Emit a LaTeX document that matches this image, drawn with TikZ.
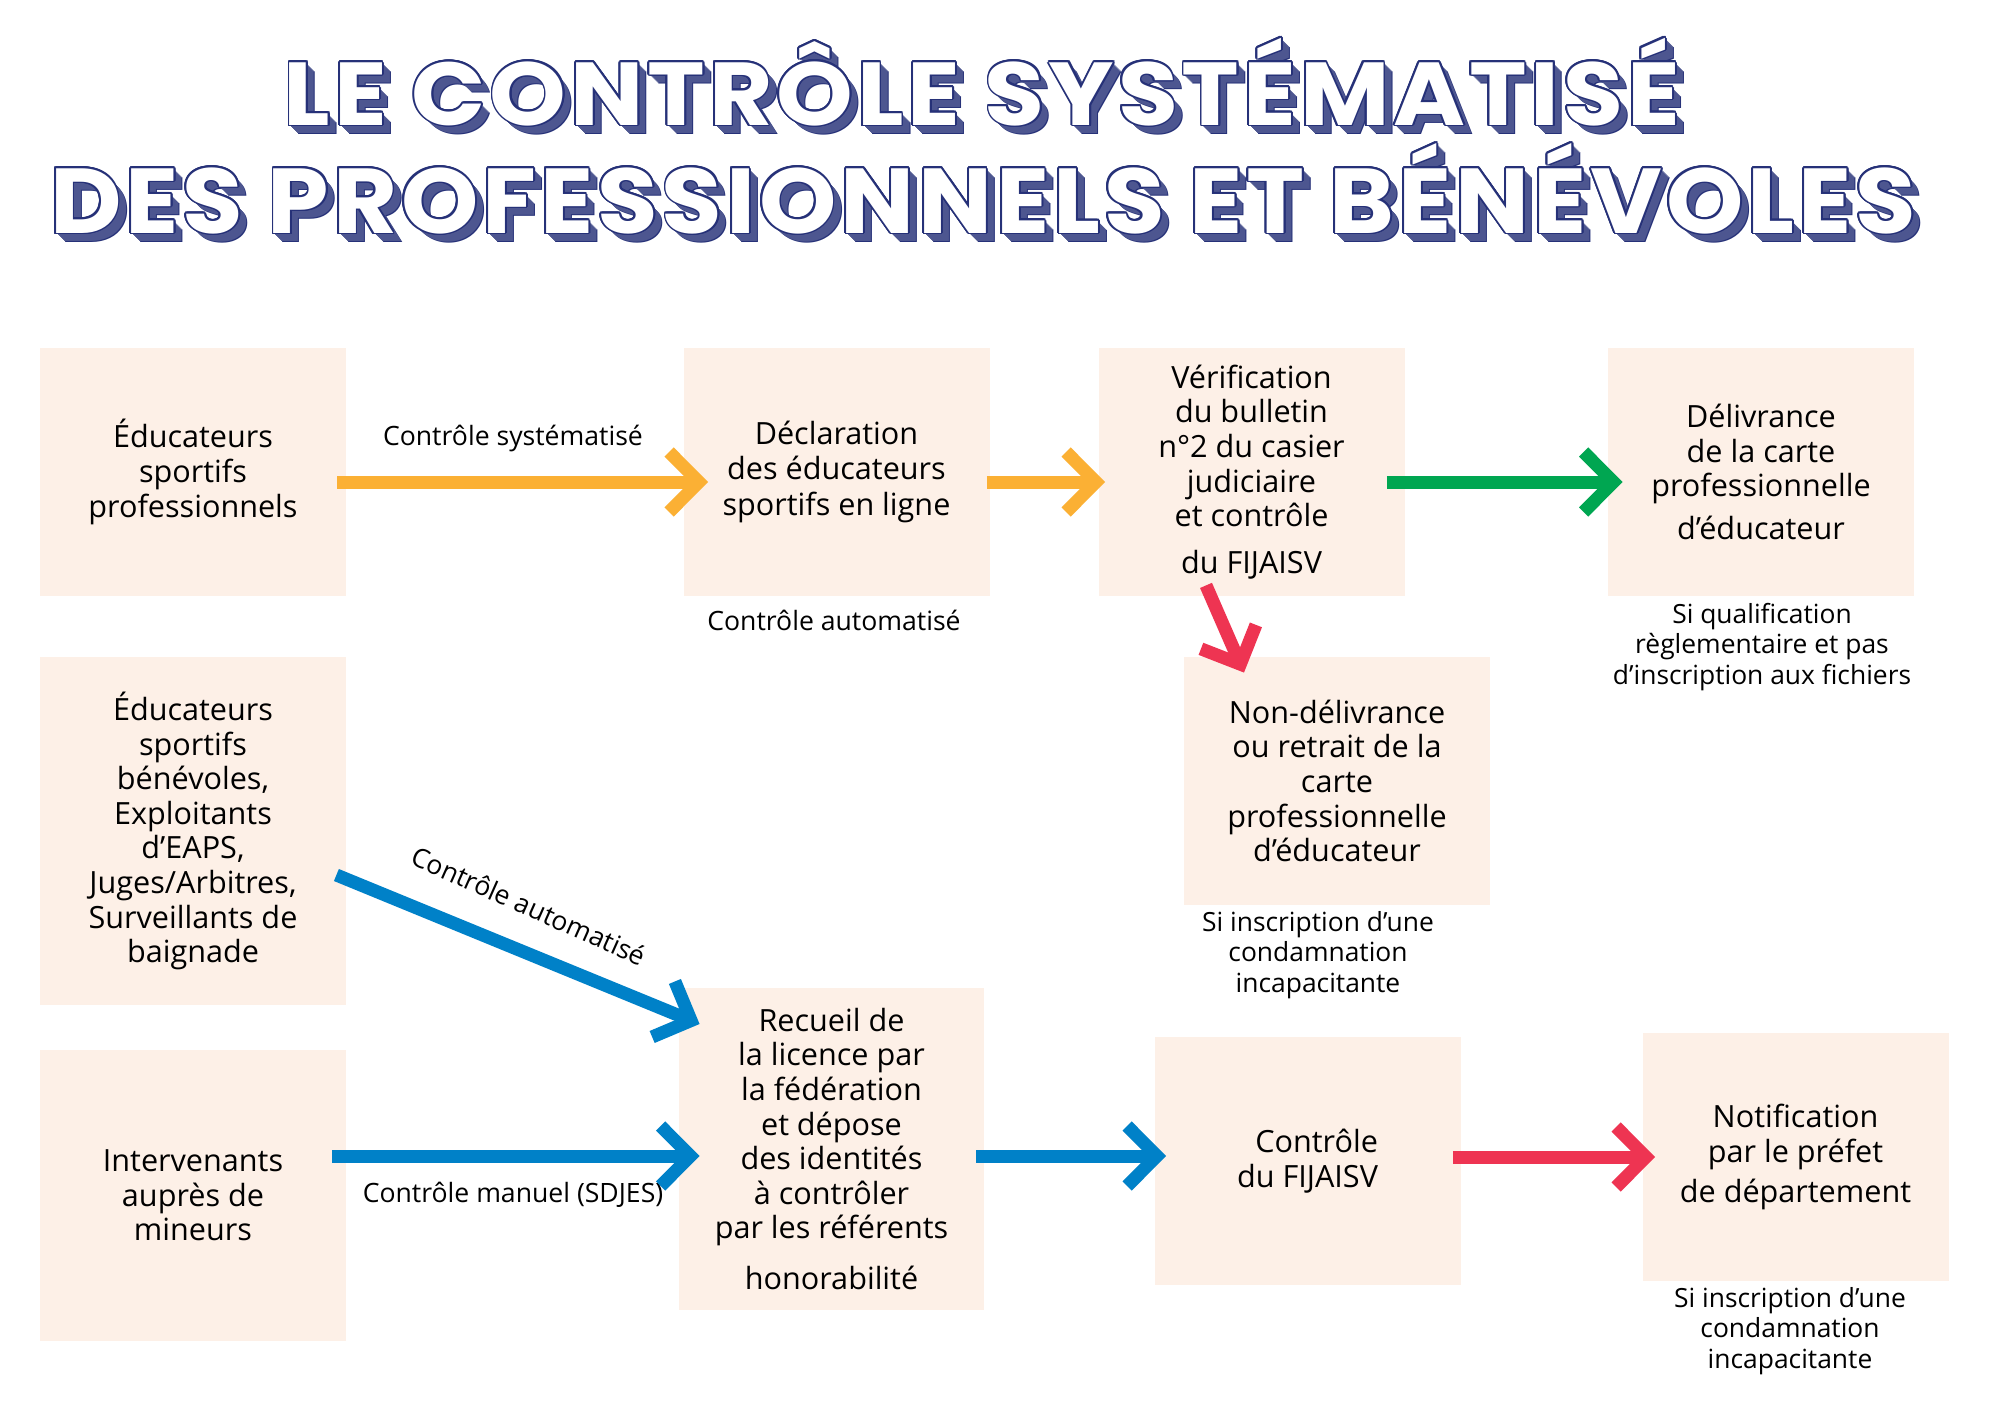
\documentclass[tikz,border=0pt]{standalone}
\usepackage{fontspec}
\usepackage{graphicx}
\setmainfont{Open Sans}
\newfontfamily\boxfont{Open Sans}
\newfontfamily\titlefont{Poppins}[LetterSpace=4]
\usetikzlibrary{calc,arrows.meta}
\definecolor{boxfill}{HTML}{FDF0E7}
\definecolor{aorange}{HTML}{FBB034}
\definecolor{agreen}{HTML}{00A651}
\definecolor{ared}{HTML}{EE3452}
\definecolor{ablue}{HTML}{0081C8}
\definecolor{navy}{HTML}{263178}
\colorlet{navyshade}{navy!82}
\pgfdeclarearrow{
  name = Chev,
  setup code = {
    \pgfarrowssettipend{0pt}
    \pgfarrowssetlineend{-5pt}
    \pgfarrowssetbackend{-21pt}
    \pgfarrowssetvisualbackend{-21pt}
  },
  drawing code = {
    \pgfsetlinewidth{6.5pt}
    \pgfsetmiterjoin
    \pgfsetbuttcap
    \pgfsetdash{}{0pt}
    \pgfpathmoveto{\pgfqpoint{-19.5pt}{15pt}}
    \pgfpathlineto{\pgfqpoint{-4.6pt}{0pt}}
    \pgfpathlineto{\pgfqpoint{-19.5pt}{-15pt}}
    \pgfusepathqstroke
  }
}
\newsavebox\tbox
\newcommand\ttl[3]{{\titlefont\bfseries\fontsize{60pt}{60pt}\selectfont
  \sbox\tbox{#1}\ht\tbox=\fontcharht\font`D\relax\dp\tbox=0pt\relax
  \resizebox{#2}{#3}{\usebox\tbox}}}
\begin{document}
\begin{tikzpicture}[x=0.5pt,y=-0.5pt,
  pbox/.style={fill=boxfill, inner sep=0pt, align=center,
    font=\boxfont\fontsize{15.3pt}{17.3pt}\selectfont,
    minimum width=153pt, minimum height=124pt},
  capt/.style={align=center, inner sep=0pt, font=\fontsize{13.2pt}{15.2pt}\selectfont},
  lbl/.style={inner sep=0pt, font=\fontsize{13.3pt}{16pt}\selectfont},
  conn/.style={line width=6.5pt, -Chev},
  ttlnode/.style={inner sep=0pt}]
\fill[white] (0,0) rectangle (2000,1414);
\useasboundingbox (0,0) rectangle (2000,1414);

% title line 1
\node[ttlnode, text=navy] (t1s9) at (991,102.5) {\ttl{LE CONTRÔLE SYSTÉMATISÉ}{698pt}{31.5pt}};
\foreach \k in {8,...,1}
  \node[ttlnode, text=navyshade] (t1s\k) at (982+\k,93.5+\k) {\ttl{LE CONTRÔLE SYSTÉMATISÉ}{698pt}{31.5pt}};
\foreach \a [count=\i] in {0,22.5,...,337.5}
  \node[ttlnode, text=navy] (t1o\i) at ($(982,93.5)+(\a:1.8)$) {\ttl{LE CONTRÔLE SYSTÉMATISÉ}{698pt}{31.5pt}};
\node[ttlnode, text=white] (t1) at (982,93.5) {\ttl{LE CONTRÔLE SYSTÉMATISÉ}{698pt}{31.5pt}};

% title line 2
\node[ttlnode, text=navy] (t2s9) at (992,209.5) {\ttl{DES PROFESSIONNELS ET BÉNÉVOLES}{933pt}{32.5pt}};
\foreach \k in {8,...,1}
  \node[ttlnode, text=navyshade] (t2s\k) at (983+\k,200.5+\k) {\ttl{DES PROFESSIONNELS ET BÉNÉVOLES}{933pt}{32.5pt}};
\foreach \a [count=\i] in {0,22.5,...,337.5}
  \node[ttlnode, text=navy] (t2o\i) at ($(983,200.5)+(\a:1.8)$) {\ttl{DES PROFESSIONNELS ET BÉNÉVOLES}{933pt}{32.5pt}};
\node[ttlnode, text=white] (t2) at (983,200.5) {\ttl{DES PROFESSIONNELS ET BÉNÉVOLES}{933pt}{32.5pt}};

% boxes
\node[pbox] (b1) at (193,472) {Éducateurs\\sportifs\\professionnels};
\node[pbox] (b2) at (836.5,472) {Déclaration\\des éducateurs\\[1pt]sportifs en ligne};
\node[pbox] (b3) at (1251.5,472) {Vérification\\du bulletin\\n°2 du casier\\judiciaire\\et contrôle\\[6pt]du FIJAISV};
\node[pbox] (b4) at (1761,472) {Délivrance\\de la carte\\professionnelle\\[4pt]d’éducateur};
\node[pbox] (b5) at (1337,781) {Non-délivrance\\ou retrait de la\\carte\\professionnelle\\d’éducateur};
\node[pbox, minimum height=174pt] (b6) at (193,831) {Éducateurs\\sportifs\\bénévoles,\\Exploitants\\d’EAPS,\\Juges/Arbitres,\\Surveillants de\\baignade};
\node[pbox, minimum height=145.5pt] (b7) at (193,1195.5) {Intervenants\\auprès de\\mineurs};
\node[pbox, minimum width=152.5pt, minimum height=161pt] (b8) at (831.5,1149) {Recueil de\\la licence par\\la fédération\\et dépose\\des identités\\à contrôler\\par les référents\\[8pt]honorabilité};
\node[pbox, align=right] (b9) at (1307.5,1161) {Contrôle\\du FIJAISV};
\node[pbox] (b10) at (1795.5,1157) {Notification\\par le préfet\\[3pt]de département};

% labels
\node[lbl, anchor=base] (l1) at (513,445) {Contrôle systématisé};
\node[lbl, anchor=base] (l2) at (834,630) {Contrôle automatisé};
\node[lbl, anchor=base] (l3) at (513,1202) {Contrôle manuel (SDJES)};
\node[lbl, rotate=-24] (l4) at (529,906) {Contrôle automatisé};
\node[capt] (c1) at (1762,647) {Si qualification\\règlementaire et pas\\d’inscription aux fichiers};
\node[capt] (c2) at (1318,955) {Si inscription d’une\\condamnation\\incapacitante};
\node[capt] (c3) at (1790,1331) {Si inscription d’une\\condamnation\\incapacitante};

% connectors
\draw[conn, aorange] ($(b1.east)+(-9,10)$) -- ($(b2.west)+(25,10)$);
\draw[conn, aorange] ($(b2.east)+(-3,10)$) -- ($(b3.west)+(7,10)$);
\draw[conn, agreen] ($(b3.east)+(-18,10)$) -- ($(b4.west)+(15,10)$);
\draw[conn, ared] ($(b3.south)+(-45.5,-11)$) -- ($(b5.north)+(-93,16)$);
\draw[conn, ablue] ($(b6.east)+(-10,44)$) -- ($(b8.west)+(21,-125)$);
\draw[conn, ablue] ($(b7.east)+(-14,-39.5)$) -- ($(b8.west)+(21,7)$);
\draw[conn, ablue] ($(b8.east)+(-8,7)$) -- ($(b9.west)+(12,-5)$);
\draw[conn, ared] ($(b9.east)+(-8,-4)$) -- ($(b10.west)+(13,0)$);
\end{tikzpicture}
\end{document}
